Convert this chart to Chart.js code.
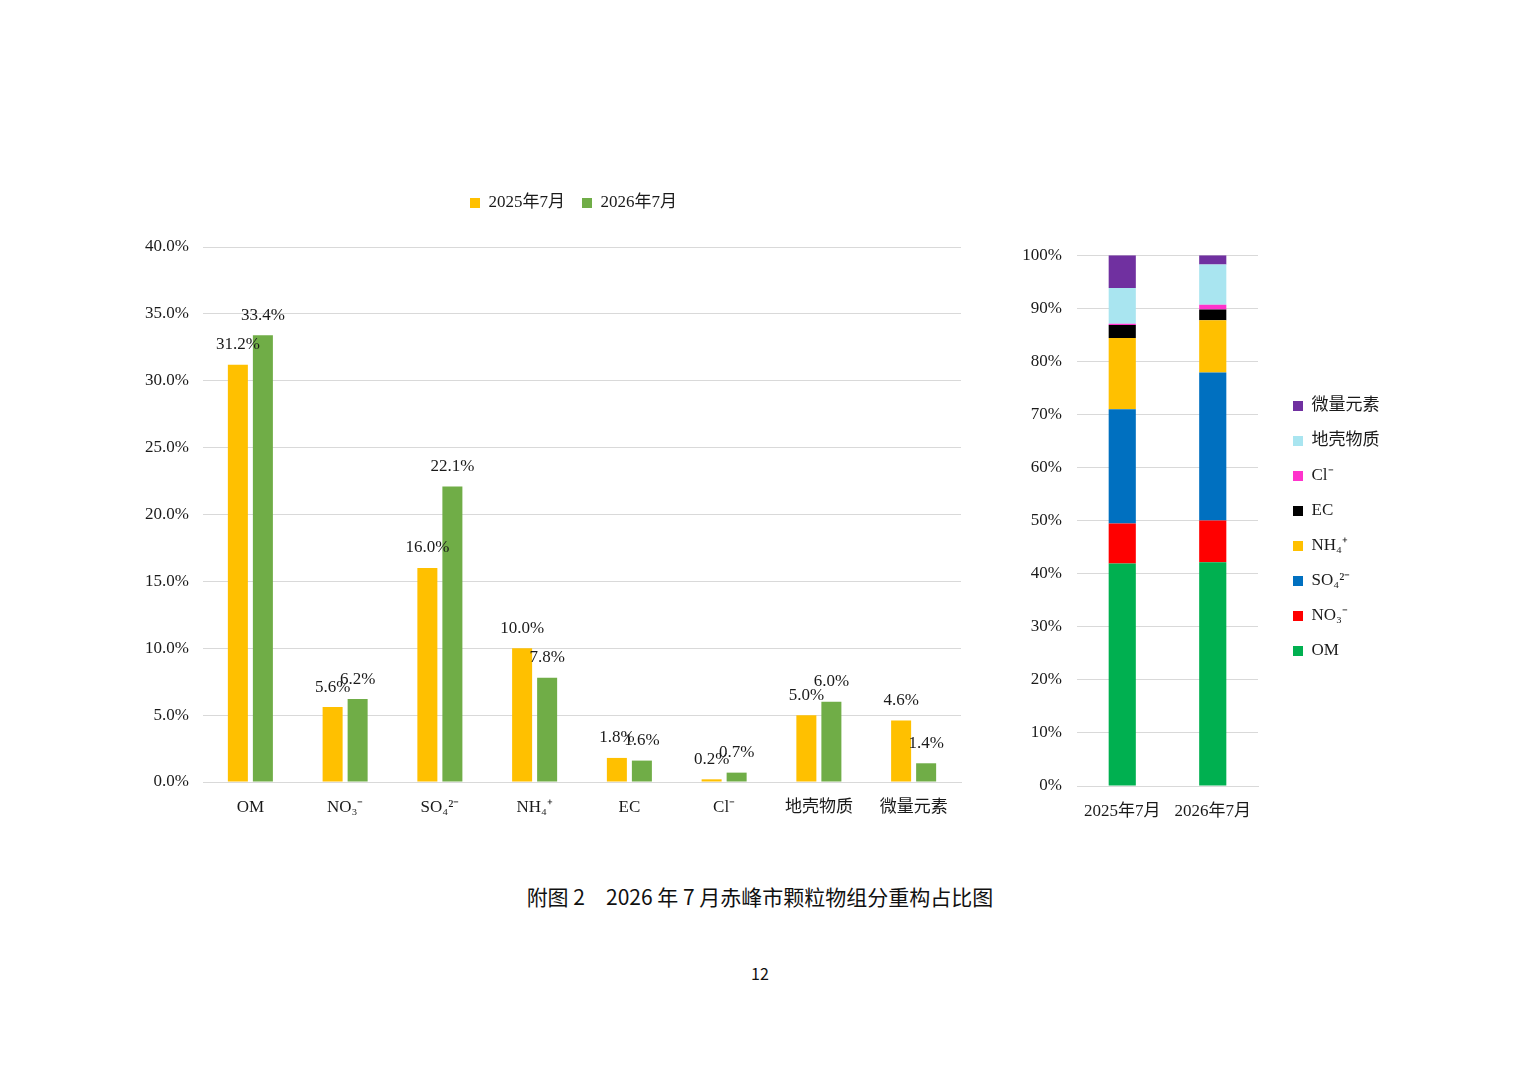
<!DOCTYPE html>
<html>
<head>
<meta charset="utf-8">
<script src="https://cdn.jsdelivr.net/npm/chart.js@4.4.1/dist/chart.umd.min.js"></script>
<style>
  html, body { margin: 0; padding: 0; background: #fff; }
  body { width: 1520px; height: 1074px; position: relative; overflow: hidden; }
  .box { position: absolute; }
  #caption { position: absolute; left: 0; width: 1520px; top: 884px; text-align: center;
    font-family: "Noto Sans CJK SC", "Noto Sans", sans-serif; font-size: 21px; line-height: 24px; color: #111; }
  #pageno { position: absolute; left: 0; width: 1520px; top: 963px; text-align: center;
    font-family: "Noto Sans CJK SC", "Noto Sans", sans-serif; font-size: 16px; line-height: 20px; color: #111; }
</style>
</head>
<body>
<div class="box" id="leftBox" style="left:134px; top:170px; width:866px; height:652px;"><canvas id="left"></canvas></div>
<div class="box" id="rightBox" style="left:1000px; top:230px; width:500px; height:596px;"><canvas id="right"></canvas></div>
<div id="caption">附图 2　2026 年 7 月赤峰市颗粒物组分重构占比图</div>
<div id="pageno">12</div>
<script>
// ---- data ----
const categories = ['OM', 'NO₃⁻', 'SO₄²⁻', 'NH₄⁺', 'EC', 'Cl⁻', '地壳物质', '微量元素'];
const periods = ['2025年7月', '2026年7月'];
const values2025 = [31.2, 5.6, 16.0, 10.0, 1.8, 0.2, 5.0, 4.6];
const values2026 = [33.4, 6.2, 22.1, 7.8, 1.6, 0.7, 6.0, 1.4];
const leftTicks = [0, 5, 10, 15, 20, 25, 30, 35, 40];
const rightTicks = [0, 10, 20, 30, 40, 50, 60, 70, 80, 90, 100];

// ---- styles ----
const serif = "'Liberation Serif', 'Noto Sans CJK SC', serif";
const textColor = '#1a1a1a';
const gridColor = '#d9d9d9';
const periodColors = ['#FFC000', '#70AD47'];
const componentColors = ['#00B050', '#FF0000', '#0070C0', '#FFC000', '#000000', '#FF33CC', '#A9E5F0', '#7030A0'];

const fixLegend = {
  id: 'fixLegend',
  beforeInit(chart, args, opts) {
    const legend = chart.legend;
    if (!legend) return;
    const orig = legend.fit;
    legend.fit = function () {
      orig.call(this);
      if (opts.height != null) this.height = opts.height;
      if (opts.width != null) this.width = opts.width;
    };
  },
  afterLayout(chart, args, opts) {
    const l = chart.legend;
    if (!l) return;
    const dx = opts.dx || 0, dy = opts.dy || 0;
    l.left += dx; l.right += dx; l.top += dy; l.bottom += dy;
  }
};

const barLabels = {
  id: 'barLabels',
  afterDatasetsDraw(chart) {
    const ctx = chart.ctx;
    ctx.save();
    ctx.font = '17px ' + serif;
    ctx.fillStyle = textColor;
    ctx.textAlign = 'center';
    ctx.textBaseline = 'middle';
    chart.data.datasets.forEach((ds, i) => {
      chart.getDatasetMeta(i).data.forEach((bar, j) => {
        ctx.fillText(ds.data[j].toFixed(1) + '%', bar.x, bar.y - 20);
      });
    });
    ctx.restore();
  }
};

Chart.defaults.font.family = serif;
Chart.defaults.font.size = 17;
Chart.defaults.color = textColor;

// ---- left: grouped bars ----
new Chart(document.getElementById('left'), {
  type: 'bar',
  data: {
    labels: categories,
    datasets: [
      { label: periods[0], data: values2025, backgroundColor: periodColors[0], borderWidth: 0 },
      { label: periods[1], data: values2026, backgroundColor: periodColors[1], borderWidth: 0 }
    ]
  },
  options: {
    responsive: true,
    maintainAspectRatio: false,
    animation: false,
    layout: { padding: { top: 7.5, right: 39, bottom: 0, left: 0 } },
    datasets: { bar: { categoryPercentage: 0.528, barPercentage: 0.8 } },
    plugins: {
      legend: {
        position: 'top',
        labels: { boxWidth: 10, boxHeight: 10, padding: 17, font: { size: 17, family: serif }, color: textColor }
      },
      tooltip: { enabled: false },
      fixLegend: { height: 69.5, dx: 26 }
    },
    scales: {
      x: {
        grid: { display: false },
        border: { display: true, color: gridColor },
        ticks: { padding: 7, font: { size: 17 }, color: textColor, maxRotation: 0, autoSkip: false },
        afterFit(s) { s.height = 40; }
      },
      y: {
        min: leftTicks[0],
        max: leftTicks[leftTicks.length - 1],
        afterBuildTicks(s) { s.ticks = leftTicks.map(v => ({ value: v })); },
        grid: { color: gridColor, drawTicks: false },
        border: { display: false },
        ticks: { padding: 14, font: { size: 17 }, color: textColor, callback: v => Number(v).toFixed(1) + '%' },
        afterFit(s) { s.width = 69; }
      }
    }
  },
  plugins: [fixLegend, barLabels]
});

// ---- right: 100% stacked ----
const totals = [values2025.reduce((a, b) => a + b, 0), values2026.reduce((a, b) => a + b, 0)];
const stackedSets = categories.map((name, i) => ({
  label: name,
  data: [values2025[i] / totals[0] * 100, values2026[i] / totals[1] * 100],
  backgroundColor: componentColors[i],
  borderWidth: 0
}));

new Chart(document.getElementById('right'), {
  type: 'bar',
  data: { labels: periods, datasets: stackedSets },
  options: {
    responsive: true,
    maintainAspectRatio: false,
    animation: false,
    layout: { padding: { top: 25, right: 102, bottom: 0, left: 0 } },
    datasets: { bar: { categoryPercentage: 0.3, barPercentage: 1 } },
    plugins: {
      legend: {
        position: 'right',
        reverse: true,
        labels: { boxWidth: 10, boxHeight: 10, padding: 18, font: { size: 17, family: serif }, color: textColor }
      },
      tooltip: { enabled: false },
      fixLegend: { width: 140, dx: 17, dy: -12 }
    },
    scales: {
      x: {
        stacked: true,
        grid: { display: false },
        border: { display: true, color: gridColor },
        ticks: { padding: 7, font: { size: 17 }, color: textColor, maxRotation: 0 },
        afterFit(s) { s.height = 40; }
      },
      y: {
        stacked: true,
        min: rightTicks[0],
        max: rightTicks[rightTicks.length - 1],
        afterBuildTicks(s) { s.ticks = rightTicks.map(v => ({ value: v })); },
        grid: { color: gridColor, drawTicks: false },
        border: { display: false },
        ticks: { padding: 15, font: { size: 17 }, color: textColor, callback: v => v + '%' },
        afterFit(s) { s.width = 77; }
      }
    }
  },
  plugins: [fixLegend]
});
</script>
</body>
</html>
